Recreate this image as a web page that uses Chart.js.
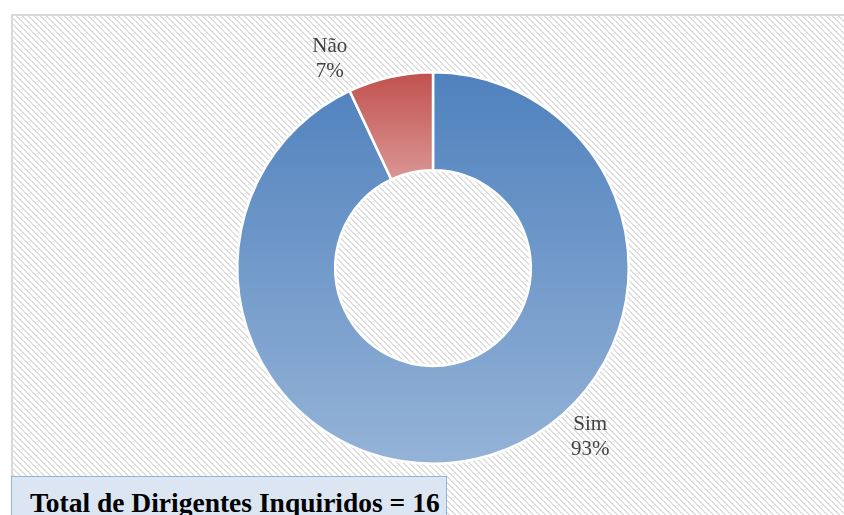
<!DOCTYPE html>
<html>
<head>
<meta charset="utf-8">
<script src="https://cdn.jsdelivr.net/npm/chart.js@4.4.1/dist/chart.umd.min.js"></script>
<style>
  html, body { margin: 0; padding: 0; background: #ffffff; width: 844px; height: 515px; overflow: hidden; position: relative; }
  #frame { position: absolute; left: 11px; top: 14px; width: 860px; height: 540px; border: 2px solid #d9d9d9; box-sizing: border-box; }
  #c { position: absolute; left: 0; top: 0; }
  #titlebox { position: absolute; left: 11px; top: 476px; width: 436px; height: 60px; background: #dce6f2; border: 1.5px solid #95b3d7; box-sizing: border-box; }
  #titletext { position: absolute; left: 30px; top: 487px; font-family: "Liberation Serif", serif; font-weight: bold; font-size: 27.5px; color: #000000; white-space: nowrap; line-height: 32px; }
</style>
</head>
<body>
<div id="frame"></div>
<canvas id="c" width="844" height="515"></canvas>
<div id="titlebox"></div>
<div id="titletext">Total de Dirigentes Inquiridos = 16</div>
<script>
const categories = ['Sim', 'Não'];
const values = [93, 7];
const titleText = 'Total de Dirigentes Inquiridos = 16';

// hatch background pattern
function makePattern(ctx) {
  const p = document.createElement('canvas');
  p.width = 6; p.height = 6;
  const pc = p.getContext('2d');
  pc.fillStyle = '#ffffff';
  pc.fillRect(0, 0, 6, 6);
  pc.fillStyle = '#dedede';
  for (let y = 0; y < 6; y++) {
    for (let x = 0; x < 6; x++) {
      const d = ((x - y) % 6 + 6) % 6;
      if (d < 2) pc.fillRect(x, y, 1, 1);
    }
  }
  return ctx.createPattern(p, 'repeat');
}

const bgPlugin = {
  id: 'hatchBg',
  beforeDraw(chart) {
    const ctx = chart.ctx;
    ctx.save();
    ctx.fillStyle = makePattern(ctx);
    ctx.fillRect(13, 16, chart.width - 13, chart.height - 16);
    ctx.restore();
  }
};

const labelPlugin = {
  id: 'outLabels',
  afterDatasetsDraw(chart, args, opts) {
    const ctx = chart.ctx;
    const meta = chart.getDatasetMeta(0);
    const total = values.reduce((a, b) => a + b, 0);
    ctx.save();
    ctx.font = opts.font;
    ctx.fillStyle = opts.color;
    ctx.textAlign = 'center';
    ctx.textBaseline = 'middle';
    meta.data.forEach((arc, i) => {
      const ang = (opts.angles[i] - 90) * Math.PI / 180;
      const r = arc.outerRadius * opts.dist[i];
      const x = arc.x + r * Math.cos(ang);
      const y = arc.y + r * Math.sin(ang);
      const pct = Math.round(values[i] / total * 100) + '%';
      ctx.fillText(categories[i], x, y - opts.lineGap / 2);
      ctx.fillText(pct, x, y + opts.lineGap / 2);
    });
    ctx.restore();
  }
};

const topColors = ['#4f81bd', '#c0504d'];
const botColors = ['#95b3d7', '#da9694'];

function gradFor(context) {
  const chart = context.chart;
  const area = chart.chartArea;
  const i = context.dataIndex;
  if (!area) return topColors[i];
  const ctx = chart.ctx;
  let y0 = area.top, y1 = area.bottom;
  if (i === 1) {
    const cy = (area.top + area.bottom) / 2;
    const R = (area.bottom - area.top) / 2;
    y1 = cy - R * 0.5 * Math.cos(25.2 * Math.PI / 180);
  }
  const g = ctx.createLinearGradient(0, y0, 0, y1);
  g.addColorStop(0, topColors[i]);
  g.addColorStop(1, botColors[i]);
  return g;
}

new Chart(document.getElementById('c'), {
  type: 'doughnut',
  data: {
    labels: categories,
    datasets: [{
      data: values,
      backgroundColor: gradFor,
      borderColor: '#ffffff',
      borderWidth: 2.5
    }]
  },
  options: {
    responsive: false,
    animation: false,
    cutout: '50%',
    layout: { padding: { top: 71, bottom: 50, left: 236, right: 214 } },
    plugins: {
      legend: { display: false },
      tooltip: { enabled: false },
      outLabels: {
        font: '21px "Liberation Serif", serif',
        color: '#404040',
        lineGap: 25,
        angles: [137.1, -26.3],
        dist: [1.18, 1.19]
      }
    }
  },
  plugins: [bgPlugin, labelPlugin]
});
</script>
</body>
</html>
